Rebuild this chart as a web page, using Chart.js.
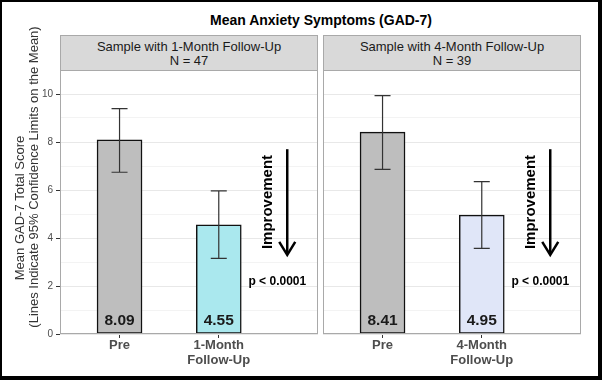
<!DOCTYPE html>
<html><head><meta charset="utf-8">
<script src="https://cdn.jsdelivr.net/npm/chart.js@4"></script>
<style>
html,body{margin:0;padding:0;background:#fff;}
#wrap{position:relative;width:602px;height:380px;overflow:hidden;font-family:'Liberation Sans',Arial,sans-serif;background:#fff;}
#frame{position:absolute;left:0;top:0;width:602px;height:380px;box-sizing:border-box;border-style:solid;border-color:#000;border-width:2px 4px 4px 2px;pointer-events:none;z-index:5;}
#title{position:absolute;left:121px;width:400px;top:12px;text-align:center;font-weight:bold;font-size:14px;line-height:16px;color:#000;}
.strip{position:absolute;top:35px;height:36px;box-sizing:border-box;border:1px solid #a9a9a9;background:#d9d9d9;text-align:center;font-size:13px;line-height:14px;color:#1a1a1a;padding-top:4px;z-index:2;}
canvas{position:absolute;top:0;}
</style></head>
<body>
<div id="wrap">
  <div id="title"></div>
  <div class="strip" id="strip1" style="left:60px;width:258px;"></div>
  <div class="strip" id="strip2" style="left:323px;width:258px;"></div>
  <div style="position:absolute;left:0;top:0;width:320px;height:380px;"><canvas id="c1"></canvas></div>
  <div style="position:absolute;left:320px;top:0;width:282px;height:380px;"><canvas id="c2"></canvas></div>
  <div id="frame"></div>
</div>
<script>
// ---- data ----
const chartTitle = 'Mean Anxiety Symptoms (GAD-7)';
const panelTitles = ['Sample with 1-Month Follow-Up', 'Sample with 4-Month Follow-Up'];
const panelN = [47, 39];
const categories1 = [['Pre'], ['1-Month', 'Follow-Up']];
const categories2 = [['Pre'], ['4-Month', 'Follow-Up']];
const means1 = [8.09, 4.55];
const ciLow1 = [6.74, 3.15];
const ciHigh1 = [9.39, 5.96];
const means2 = [8.41, 4.95];
const ciLow2 = [6.86, 3.57];
const ciHigh2 = [9.93, 6.35];
const pLabels = ['p < 0.0001', 'p < 0.0001'];
const yTickValues = [0, 2, 4, 6, 8, 10];
const yTitleLines = ['Mean GAD-7 Total Score', '(Lines Indicate 95% Confidence Limits on the Mean)'];
const arrowLabel = 'Improvement';

// ---- styles ----
const FONT = "'Liberation Sans', Arial, sans-serif";
const fills1 = ['#bebebe', '#aae8ee'];
const fills2 = ['#bebebe', '#e0e6f8'];

document.getElementById('title').textContent = chartTitle;
document.getElementById('strip1').innerHTML = panelTitles[0] + '<br>N = ' + panelN[0];
document.getElementById('strip2').innerHTML = panelTitles[1] + '<br>N = ' + panelN[1];

function makePlugin(means, lo, hi, pLabel, isFirst) {
  return {
    id: 'extras',
    afterDatasetsDraw(chart) {
      const ctx = chart.ctx, xs = chart.scales.x, ys = chart.scales.y, ca = chart.chartArea;
      ctx.save();
      // error bars
      ctx.strokeStyle = '#333';
      ctx.lineWidth = 1.2;
      means.forEach((m, i) => {
        const x = xs.getPixelForValue(i + 1);
        const yt = ys.getPixelForValue(hi[i]), yb = ys.getPixelForValue(lo[i]);
        ctx.beginPath();
        ctx.moveTo(x, yt); ctx.lineTo(x, yb);
        ctx.moveTo(x - 8, yt); ctx.lineTo(x + 8, yt);
        ctx.moveTo(x - 8, yb); ctx.lineTo(x + 8, yb);
        ctx.stroke();
      });
      // value labels
      ctx.fillStyle = '#1a1a1a';
      ctx.font = 'bold 15.5px ' + FONT;
      ctx.textAlign = 'center';
      ctx.textBaseline = 'middle';
      const y0 = ys.getPixelForValue(0);
      means.forEach((m, i) => {
        ctx.fillText(m.toFixed(2), xs.getPixelForValue(i + 1), y0 - 13);
      });
      // arrow
      const ax = xs.getPixelForValue(2.69);
      const ay1 = ys.getPixelForValue(7.7), ay2 = ys.getPixelForValue(3.3);
      ctx.strokeStyle = '#000';
      ctx.lineWidth = 2.5;
      ctx.beginPath();
      ctx.moveTo(ax, ay1); ctx.lineTo(ax, ay2 - 1);
      ctx.stroke();
      ctx.beginPath();
      ctx.moveTo(ax - 8, ay2 - 13); ctx.lineTo(ax, ay2); ctx.lineTo(ax + 8, ay2 - 13);
      ctx.stroke();
      // Improvement text
      ctx.fillStyle = '#000';
      ctx.font = 'bold 15px ' + FONT;
      ctx.save();
      ctx.translate(xs.getPixelForValue(2.49), ys.getPixelForValue(5.5));
      ctx.rotate(-Math.PI / 2);
      ctx.fillText(arrowLabel, 0, 0);
      ctx.restore();
      // p-value
      ctx.font = 'bold 12px ' + FONT;
      ctx.fillText(pLabel, xs.getPixelForValue(2.59), ys.getPixelForValue(2.18));
      // panel border
      ctx.strokeStyle = '#a9a9a9';
      ctx.lineWidth = 1;
      ctx.strokeRect(ca.left + 0.5, ca.top + 0.5, ca.right - ca.left - 1, ca.bottom - ca.top - 1);
      ctx.restore();
    },
    afterDraw(chart) {
      if (!isFirst) return;
      const ctx = chart.ctx;
      ctx.save();
      ctx.fillStyle = '#333';
      ctx.font = '13px ' + FONT;
      ctx.textAlign = 'center';
      ctx.textBaseline = 'middle';
      ctx.translate(20, 208);
      ctx.rotate(-Math.PI / 2);
      ctx.fillText(yTitleLines[0], 0, 0);
      ctx.restore();
      ctx.save();
      ctx.fillStyle = '#333';
      ctx.font = '13px ' + FONT;
      ctx.textAlign = 'center';
      ctx.textBaseline = 'middle';
      ctx.translate(34, 177);
      ctx.rotate(-Math.PI / 2);
      ctx.fillText(yTitleLines[1], 0, 0);
      ctx.restore();
    }
  };
}

function makeChart(id, cats, means, lo, hi, fills, pLabel, isFirst) {
  return new Chart(document.getElementById(id), {
    type: 'bar',
    data: {
      datasets: [{
        data: means.map((m, i) => ({ x: i + 1, y: m })),
        backgroundColor: fills,
        borderColor: '#111',
        borderWidth: 1.5,
        borderSkipped: false,
        barThickness: 45
      }]
    },
    options: {
      responsive: true,
      maintainAspectRatio: false,
      animation: false,
      events: [],
      layout: { padding: { top: 70, bottom: 0, left: isFirst ? 0 : 3, right: isFirst ? 2 : 21 } },
      plugins: { legend: { display: false }, tooltip: { enabled: false }, title: { display: false } },
      scales: {
        x: {
          type: 'linear',
          offset: false,
          min: 0.4, max: 3.0,
          afterBuildTicks(scale) { scale.ticks = cats.map((c, i) => ({ value: i + 1 })); },
          afterFit(scale) { scale.height = 46; },
          ticks: {
            callback: (v) => cats[Math.round(v) - 1],
            font: { family: FONT, size: 13, weight: 'bold', lineHeight: 1.15 },
            color: '#4d4d4d',
            padding: 0,
            maxRotation: 0, autoSkip: false
          },
          grid: { offset: false, drawOnChartArea: false, drawTicks: true, tickLength: 4, tickColor: '#333' },
          border: { display: false }
        },
        y: {
          min: 0, max: 11,
          afterBuildTicks(scale) {
            const t = [];
            for (let v = 0; v <= 11; v++) t.push({ value: v });
            scale.ticks = t;
          },
          afterFit(scale) { scale.width = isFirst ? 60 : 0; },
          ticks: {
            display: isFirst,
            callback: (v) => yTickValues.includes(v) ? String(v) : '',
            font: { family: FONT, size: 10 },
            color: '#4d4d4d',
            padding: 3,
            autoSkip: false
          },
          grid: {
            color: (c) => (c.tick && c.tick.value % 2 === 0) ? '#e8e8e8' : '#f3f3f3',
            lineWidth: 1,
            drawTicks: isFirst,
            tickLength: 4,
            tickColor: (c) => (c.tick && yTickValues.includes(c.tick.value)) ? '#333' : 'rgba(0,0,0,0)'
          },
          border: { display: false }
        }
      }
    },
    plugins: [makePlugin(means, lo, hi, pLabel, isFirst)]
  });
}

makeChart('c1', categories1, means1, ciLow1, ciHigh1, fills1, pLabels[0], true);
makeChart('c2', categories2, means2, ciLow2, ciHigh2, fills2, pLabels[1], false);
</script>
</body></html>
